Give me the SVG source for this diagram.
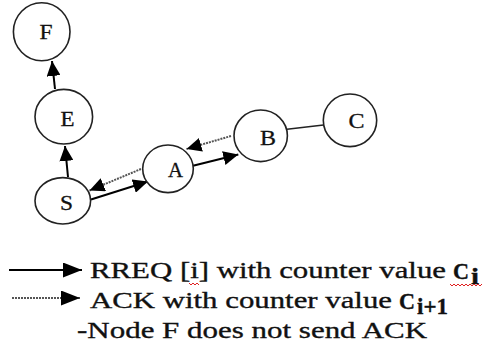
<svg xmlns="http://www.w3.org/2000/svg" width="488" height="347" viewBox="0 0 488 347">
<style>
.node{fill:#fff;stroke:#222;stroke-width:1.6}
.lbl{font-family:"Liberation Serif",serif;font-size:20px;fill:#111;stroke:#111;stroke-width:0.3;text-anchor:middle}
.solid{stroke:#000;stroke-width:2;fill:none}
.dot{stroke:#555;stroke-width:2;stroke-dasharray:2,1;fill:none}
.plain{stroke:#222;stroke-width:1.6;fill:none}
.leg{font-family:"Liberation Serif",serif;font-size:24px;fill:#111;stroke:#111;stroke-width:0.35}
.sq{stroke:#e02020;stroke-width:1;fill:none}
</style>
<defs>
<marker id="ah" markerUnits="userSpaceOnUse" markerWidth="16" markerHeight="14" refX="15" refY="7" orient="auto">
<path d="M0,0 L15,7 L0,14 z" fill="#000"/>
</marker>
<marker id="ahL" markerUnits="userSpaceOnUse" markerWidth="20" markerHeight="16" refX="19" refY="7.5" orient="auto">
<path d="M0,0 L19,7.5 L0,15 z" fill="#000"/>
</marker>
</defs>
<g id="connectors">
<line class="solid" x1="68" y1="177" x2="65" y2="146" marker-end="url(#ah)"/>
<line class="solid" x1="55" y1="89" x2="52" y2="61" marker-end="url(#ah)"/>
<line class="solid" x1="91" y1="199.5" x2="148" y2="181.5" marker-end="url(#ah)"/>
<line class="dot" x1="141" y1="169" x2="89.5" y2="190.5" marker-end="url(#ah)"/>
<line class="solid" x1="193" y1="165.7" x2="238.3" y2="154.5" marker-end="url(#ah)"/>
<line class="dot" x1="231" y1="136" x2="186.5" y2="149" marker-end="url(#ah)"/>
<line class="plain" x1="287" y1="129.3" x2="323.5" y2="125"/>
</g>
<g id="node-F"><ellipse class="node" cx="41.7" cy="31.7" rx="28.3" ry="29"/><text class="lbl" x="46" y="39" textLength="13" lengthAdjust="spacingAndGlyphs">F</text></g>
<g id="node-E"><ellipse class="node" cx="63.8" cy="116.7" rx="28.8" ry="27.3"/><text class="lbl" x="67.5" y="126" textLength="14" lengthAdjust="spacingAndGlyphs">E</text></g>
<g id="node-S"><ellipse class="node" cx="62.8" cy="200.8" rx="27.8" ry="23.2"/><text class="lbl" x="66.5" y="210" textLength="13" lengthAdjust="spacingAndGlyphs">S</text></g>
<g id="node-A"><ellipse class="node" cx="168" cy="168.8" rx="25.3" ry="23.8"/><text class="lbl" x="175.5" y="177" textLength="15" lengthAdjust="spacingAndGlyphs">A</text></g>
<g id="node-B"><ellipse class="node" cx="260.7" cy="135.8" rx="26.7" ry="25.8"/><text class="lbl" x="268" y="145" textLength="16" lengthAdjust="spacingAndGlyphs">B</text></g>
<g id="node-C"><ellipse class="node" cx="350" cy="120.3" rx="26.7" ry="26.3"/><text class="lbl" x="356.5" y="128" textLength="16" lengthAdjust="spacingAndGlyphs">C</text></g>
<g id="legend">
<line class="solid" x1="9" y1="270" x2="82" y2="270" marker-end="url(#ahL)"/>
<line class="dot" x1="12" y1="298" x2="80" y2="298" marker-end="url(#ahL)"/>
<text class="leg" x="90" y="278" textLength="356" lengthAdjust="spacingAndGlyphs">RREQ [i] with counter value</text>
<text class="leg" x="453" y="279" font-weight="bold" font-size="24" textLength="16" lengthAdjust="spacingAndGlyphs">C</text>
<text class="leg" x="471" y="284" font-weight="bold" font-size="15" textLength="8" lengthAdjust="spacingAndGlyphs">i</text>
<text class="leg" x="90" y="308" textLength="302" lengthAdjust="spacingAndGlyphs">ACK with counter value</text>
<text class="leg" x="399" y="309" font-weight="bold" font-size="24" textLength="16" lengthAdjust="spacingAndGlyphs">C</text>
<text class="leg" x="417" y="314" font-weight="bold" font-size="15" textLength="31" lengthAdjust="spacingAndGlyphs">i+1</text>
<text class="leg" x="77" y="338" textLength="350" lengthAdjust="spacingAndGlyphs">-Node F does not send ACK</text>
<polyline class="sq" points="189,283 191,285 193,283 195,285 197,283 199,285"/>
<polyline class="sq" points="450,284 452,286 454,284 456,286 458,284 460,286 462,284 464,286 466,284 468,286 470,284 472,286 474,284 476,286 478,284 480,286 482,284"/>
</g>
</svg>
